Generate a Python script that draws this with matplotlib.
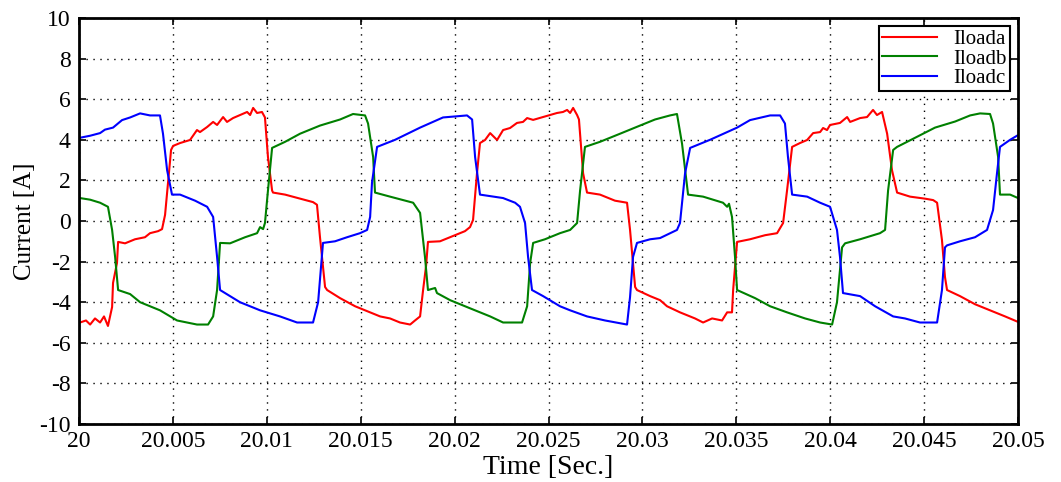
import numpy as np
import matplotlib
matplotlib.use("Agg")
import matplotlib.pyplot as plt
from matplotlib.ticker import FuncFormatter

# time offsets in ms after t = 20 s, values in A
red_ms = [0.05, 0.37, 0.59, 0.85, 1.12, 1.33, 1.54, 1.76, 1.81, 2.02, 2.08, 2.45, 2.98, 3.51, 3.78,
          4.21, 4.42, 4.58, 4.74, 4.90, 5.01, 5.38, 5.91, 6.28, 6.44, 6.82, 7.14, 7.35, 7.67, 7.88,
          8.20, 8.57, 8.95, 9.11, 9.27, 9.48, 9.74,
          9.90, 10.06, 10.28, 10.33, 10.97, 11.77, 12.46, 12.67, 12.83, 13.10, 13.21, 13.90, 14.70,
          15.50, 16.03, 16.56, 17.09, 17.63, 17.89, 18.16, 18.32, 18.48, 18.58, 19.22, 20.02, 20.55,
          20.82, 20.98, 21.19, 21.35, 21.62, 21.89, 22.26, 22.58, 22.95, 23.32, 23.64, 23.86, 24.18,
          24.71, 25.08, 25.45, 25.77, 25.99, 26.15, 26.31, 26.52, 26.62,
          26.84, 27.05, 27.74, 28.54, 29.18, 29.34, 29.61, 29.71, 30.41, 30.94, 31.31, 32.00, 32.80,
          33.23, 33.71, 34.24, 34.51, 34.77, 34.83, 35.04, 35.73, 36.53, 37.17, 37.49, 37.70, 37.97,
          38.39, 38.77, 39.09, 39.46, 39.62, 39.83, 39.99, 40.52, 40.90, 41.06, 41.59, 41.96, 42.28,
          42.49, 42.76, 43.03, 43.29, 43.56, 44.25, 45.05,
          45.48, 45.69, 45.95, 46.11, 46.22, 46.91, 47.71, 48.51, 49.31, 50.00]
red_a = [-5.0, -4.9, -5.1, -4.8, -5.0, -4.7, -5.17, -4.24, -3.05, -2.07, -1.03, -1.1, -0.9, -0.8, -0.6,
         -0.5, -0.4, 0.3, 1.9, 3.5, 3.7, 3.84, 3.99, 4.48, 4.38, 4.63, 4.88, 4.73, 5.12, 4.88,
         5.07, 5.22, 5.37, 5.22, 5.57, 5.32, 5.37,
         5.1, 3.15, 1.5, 1.4, 1.3, 1.1, 0.93, 0.8, -0.8, -3.25, -3.4, -3.8, -4.2,
         -4.5, -4.7, -4.8, -5.0, -5.1, -4.9, -4.7, -3.4, -2.2, -1.03, -1.0, -0.7, -0.5,
         -0.3, 0.05, 2.35, 3.84, 3.99, 4.33, 3.99, 4.48, 4.58, 4.83, 4.88, 5.07, 4.98,
         5.12, 5.22, 5.32, 5.37, 5.47, 5.32, 5.57, 5.22, 5.0,
         2.35, 1.4, 1.3, 1.0, 0.9, -0.44, -3.25, -3.4, -3.7, -3.9, -4.2, -4.5, -4.8,
         -5.0, -4.8, -4.9, -4.5, -4.5, -3.4, -1.03, -0.9, -0.7, -0.6, -0.1, 1.5, 3.65,
         3.84, 3.99, 4.33, 4.38, 4.58, 4.48, 4.73, 4.83, 5.12, 4.88, 5.07, 5.12, 5.47,
         5.22, 5.37, 4.3, 2.5, 1.4, 1.2, 1.1,
         1.03, 0.9, -0.94, -2.76, -3.4, -3.7, -4.1, -4.4, -4.7, -4.97]

green_ms = [0.05, 0.59, 1.12, 1.54, 1.76, 1.92, 2.08, 2.72, 3.25, 4.31, 5.22, 6.28, 6.87, 7.14, 7.35,
            7.51, 8.04, 8.84, 9.48, 9.64, 9.80, 9.90, 10.06, 10.28, 10.97, 11.77, 12.83, 13.90, 14.59,
            15.23, 15.39, 15.66, 15.76, 16.56, 17.79, 18.16, 18.42, 18.58, 18.96, 19.06, 19.76, 20.82,
            21.89, 22.58, 23.59, 23.86, 24.02, 24.18, 24.81, 25.61, 26.15, 26.52, 26.68, 26.94, 27.74,
            28.81, 29.87, 30.67, 31.47, 31.84, 32.11, 32.43, 33.23, 34.29, 34.51, 34.61, 34.77, 34.93,
            35.04, 36.00, 36.80, 37.70, 38.66, 39.46, 40.10, 40.36, 40.63, 40.79, 41.59, 42.65, 42.92,
            43.08, 43.35, 43.56, 44.52, 45.58, 46.65, 47.45, 47.98, 48.51, 48.67, 48.94, 49.04, 49.58,
            50.00]
green_a = [1.13, 1.05, 0.9, 0.7, -0.44, -1.77, -3.4, -3.6, -4.0, -4.4, -4.9, -5.1, -5.1, -4.7, -3.4,
           -1.08, -1.1, -0.8, -0.6, -0.3, -0.4, -0.1, 1.5, 3.6, 3.9, 4.3, 4.7, 5.0, 5.27,
           5.2, 4.8, 3.15, 1.4, 1.2, 0.9, 0.4, -1.77, -3.4, -3.3, -3.55, -3.9, -4.3,
           -4.7, -5.0, -5.0, -4.2, -2.07, -1.08, -0.9, -0.6, -0.44, -0.1, 1.5, 3.65, 3.9,
           4.3, 4.7, 5.0, 5.2, 5.27, 3.8, 1.3, 1.2, 0.9, 0.7, 0.85, 0.2, -1.77,
           -3.4, -3.8, -4.2, -4.5, -4.8, -5.0, -5.1, -4.0, -1.3, -1.1, -0.9, -0.6, -0.44,
           1.5, 3.5, 3.65, 4.1, 4.6, 4.9, 5.2, 5.3, 5.27, 4.8, 3.15, 1.3, 1.3,
           1.13]

blue_ms = [0.05, 0.59, 1.12, 1.38, 1.81, 2.29, 2.72, 3.25, 3.78, 4.31, 4.47, 4.69, 4.95, 5.38, 6.18,
           6.82, 7.14, 7.35, 7.51, 8.57, 9.64, 10.70, 11.61, 12.46, 12.73, 12.99, 13.63, 14.27, 14.96,
           15.34, 15.50, 15.60, 15.87, 16.83, 18.16, 19.38, 20.02, 20.66, 20.93, 21.09, 21.35, 22.58,
           23.22, 23.48, 23.75, 23.91, 24.12, 24.71, 25.61, 26.15, 27.05, 28.01, 29.18, 29.34, 29.50,
           29.71, 30.41, 30.94, 31.84, 32.00, 32.27, 32.54, 33.60, 35.04, 35.73, 36.80, 37.33, 37.59,
           37.75, 37.97, 38.77, 39.46, 39.99, 40.36, 40.52, 40.68, 41.59, 42.39, 43.35, 43.98, 44.78,
           45.69, 45.95, 46.11, 46.22, 46.91, 47.71, 48.35, 48.67, 48.88, 49.04, 49.58, 50.00]
blue_a = [4.1, 4.2, 4.33, 4.5, 4.6, 4.97, 5.1, 5.3, 5.2, 5.2, 4.3, 2.5, 1.3, 1.3, 1.0,
          0.7, 0.2, -1.77, -3.4, -4.0, -4.4, -4.7, -5.0, -5.0, -4.0, -1.08, -1.0, -0.8, -0.6,
          -0.44, 0.2, 1.9, 3.65, 4.0, 4.6, 5.1, 5.15, 5.2, 5.0, 3.15, 1.3, 1.13,
          0.9, 0.7, -0.1, -1.77, -3.4, -3.7, -4.2, -4.4, -4.7, -4.9, -5.1, -3.75, -1.77,
          -1.08, -0.9, -0.84, -0.44, -0.1, 2.35, 3.6, 4.0, 4.6, 4.97, 5.2, 5.2, 4.8,
          3.15, 1.3, 1.2, 0.9, 0.7, -0.44, -1.77, -3.55, -3.7, -4.2, -4.7, -4.8, -5.0,
          -5.0, -3.4, -1.3, -1.2, -1.0, -0.8, -0.44, 0.54, 2.35, 3.65, 4.0, 4.23]

labels = ["Iloada", "Iloadb", "Iloadc"]
colors = ["#ff0000", "#008000", "#0000ff"]

plt.rcParams["font.family"] = ["Liberation Serif", "DejaVu Serif"]
plt.rcParams["axes.unicode_minus"] = False

fig = plt.figure(figsize=(10.61, 4.82), dpi=100)
ax = fig.add_axes([0.0745, 0.1203, 0.885, 0.8424])

series = [(red_ms, red_a), (green_ms, green_a), (blue_ms, blue_a)]
for (ms, amps), lab, col in zip(series, labels, colors):
    t = 20 + np.array(ms) / 1000.0
    ax.plot(t, amps, color=col, lw=1.5, label=lab)

ax.set_xlim(20, 20.05)
ax.set_ylim(-10, 10)
ax.set_xticks(np.linspace(20, 20.05, 11))
ax.set_yticks(np.arange(-10, 11, 2))
ax.xaxis.set_major_formatter(FuncFormatter(lambda v, p: f"{v:.3f}".rstrip("0").rstrip(".")))
ax.tick_params(direction="in", top=True, right=True, length=5, width=1.2, labelsize=17)
ax.tick_params(axis="x", pad=5)
ax.tick_params(axis="y", pad=6)
ax.grid(True, color="black", linestyle=(0, (1, 4)), linewidth=1)
for s in ax.spines.values():
    s.set_linewidth(2)

ax.set_xlabel("Time [Sec.]", fontsize=20, labelpad=2)
ax.set_ylabel("Current [A]", fontsize=18, labelpad=2)

leg = ax.legend(loc="upper right", fontsize=15, fancybox=False, framealpha=1,
                edgecolor="black", handlelength=2.6, borderpad=0.15, labelspacing=0.0,
                handletextpad=0.8, borderaxespad=0.4)
leg.get_frame().set_linewidth(1.5)

fig.savefig("out.png", dpi=100)
